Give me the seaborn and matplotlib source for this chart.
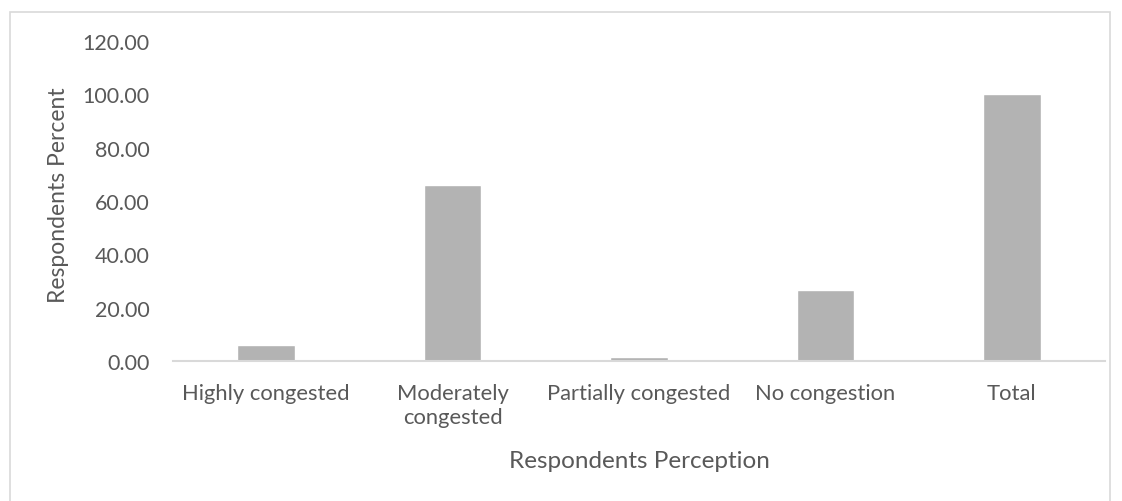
import matplotlib
matplotlib.use("Agg")
import matplotlib.pyplot as plt
import seaborn as sns
import pandas as pd
from matplotlib.patches import Rectangle

categories = ["Highly congested", "Moderately\ncongested", "Partially congested", "No congestion", "Total"]
percent = [5.9, 66.0, 1.5, 26.6, 100.0]
yticks = [0, 20, 40, 60, 80, 100, 120]

sns.set_theme(style="white")
plt.rcParams["font.family"] = ["Lato", "DejaVu Sans"]

df = pd.DataFrame({"Perception": categories, "Percent": percent})

fig = plt.figure(figsize=(11.22, 5.02), dpi=100)
ax = fig.add_axes([173/1122, 1 - 362/502, (1105-173)/1122, (362-42)/502])

sns.barplot(data=df, x="Perception", y="Percent", color="#b3b3b3", width=0.31,
            saturation=1, ax=ax)

ax.set_ylim(0, 120)
ax.set_yticks(yticks)
ax.set_yticklabels([f"{v:.2f}" for v in yticks])
ax.set_xlim(-0.5, len(categories) - 0.5)

txt = "#595959"
ax.tick_params(axis="y", length=0, pad=17, labelsize=15.5, labelcolor=txt)
ax.tick_params(axis="x", length=0, pad=16, labelsize=15.8, labelcolor=txt)
for lab in ax.get_xticklabels():
    lab.set_linespacing(1.25)
ax.set_xlabel("Respondents Perception", fontsize=17.5, color=txt)
ax.set_ylabel("Respondents Percent", fontsize=16.5, color=txt)
ax.xaxis.set_label_coords(0.5, -(462 - 362) / 320, transform=ax.transAxes)
ax.xaxis.label.set_va("center")
ax.yaxis.set_label_coords(-(173 - 59) / 932, (362 - 195) / 320, transform=ax.transAxes)
ax.yaxis.label.set_va("center")

for s in ["top", "right", "left"]:
    ax.spines[s].set_visible(False)
ax.spines["bottom"].set_color("#d9d9d9")
ax.spines["bottom"].set_linewidth(1.5)

fig.patches.append(Rectangle((10/1122, -0.01), (1110-10)/1122, 1 - 13/502 + 0.01,
                             transform=fig.transFigure, fill=False,
                             edgecolor="#d9d9d9", linewidth=1.2))

fig.savefig("out.png", dpi=100, facecolor="white")
